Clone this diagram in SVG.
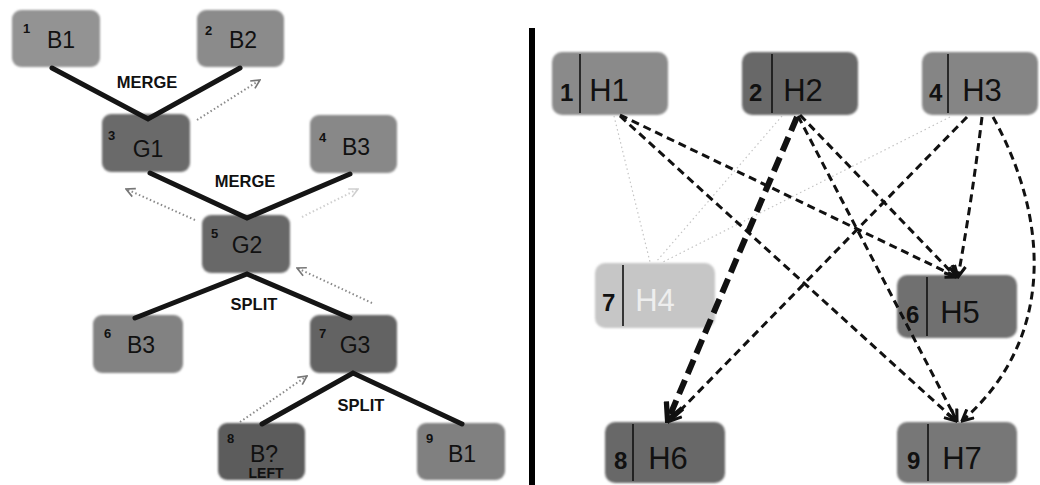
<svg xmlns="http://www.w3.org/2000/svg" width="1040" height="485" viewBox="0 0 1040 485">
  <style>
    .box { stroke: none; filter: url(#soft); }
    .num { font-family: "Liberation Sans", Arial, sans-serif; font-weight: bold; fill: #111; }
    .lbl { font-family: "Liberation Sans", Arial, sans-serif; fill: #111; }
    .small-num { font-size: 13px; }
    .left-lbl { font-size: 23px; text-anchor: middle; }
    .op { font-family: "Liberation Sans", Arial, sans-serif; font-weight: bold; font-size: 16.5px; text-anchor: middle; fill: #111; }
    .big-num { font-size: 24px; }
    .right-lbl { font-size: 31px; text-anchor: middle; }
    .div { stroke: #111; stroke-width: 1.6; }
    .tree { stroke: #151515; stroke-width: 5; stroke-linecap: round; fill: none; }
    .back { stroke: #8a8a8a; stroke-width: 2; stroke-dasharray: 1.5 2.5; fill: none; marker-end: url(#dotHead); }
    .back.faint { stroke: #cfcfcf; marker-end: url(#dotHeadFaint); }
    .dep { stroke: #111; stroke-width: 3; stroke-dasharray: 8 5; fill: none; marker-end: url(#arrow); }
    .dep.heavy { stroke-width: 6; stroke-dasharray: 15 7; marker-end: url(#arrowBig); }
    .ghost { stroke: #c4c4c4; stroke-width: 1.2; stroke-dasharray: 1.5 3; fill: none; }
  </style>
  <defs>
    <filter id="soft" x="-5%" y="-10%" width="110%" height="120%">
      <feGaussianBlur stdDeviation="1.2"/>
    </filter>
    <marker id="dotHead" viewBox="0 0 10 10" refX="9" refY="5" markerWidth="11" markerHeight="11" markerUnits="userSpaceOnUse" orient="auto">
      <path d="M1,1 L9,5 L1,9" fill="none" stroke="#777" stroke-width="1.5"/>
    </marker>
    <marker id="dotHeadFaint" viewBox="0 0 10 10" refX="9" refY="5" markerWidth="11" markerHeight="11" markerUnits="userSpaceOnUse" orient="auto">
      <path d="M1,1 L9,5 L1,9" fill="none" stroke="#cfcfcf" stroke-width="1.5"/>
    </marker>
    <marker id="arrow" viewBox="0 0 10 10" refX="9" refY="5" markerWidth="14" markerHeight="14" markerUnits="userSpaceOnUse" orient="auto">
      <path d="M1,1 L9,5 L1,9" fill="none" stroke="#111" stroke-width="2.2"/>
    </marker>
    <marker id="arrowBig" viewBox="0 0 10 10" refX="8.5" refY="5" markerWidth="22" markerHeight="22" markerUnits="userSpaceOnUse" orient="auto">
      <path d="M1,1 L9,5 L1,9" fill="none" stroke="#111" stroke-width="2.4"/>
    </marker>
  </defs>

  <rect width="1040" height="485" fill="#ffffff"/>

  <!-- panel separator -->
  <line x1="532" y1="28" x2="532" y2="485" stroke="#000" stroke-width="6"/>

  <!-- left tree: merge / split nodes -->
  <g id="b1-top">
    <rect class="box" x="12" y="10" width="88" height="57" rx="9" fill="#939393"/>
    <text class="num small-num" x="23" y="33">1</text>
    <text class="lbl left-lbl" x="61" y="48">B1</text>
  </g>
  <g id="b2-top">
    <rect class="box" x="197" y="10" width="87" height="57" rx="9" fill="#8b8b8b"/>
    <text class="num small-num" x="205" y="35">2</text>
    <text class="lbl left-lbl" x="243" y="48">B2</text>
  </g>
  <g id="g1">
    <rect class="box" x="102" y="114" width="88" height="58" rx="9" fill="#6a6a6a"/>
    <text class="num small-num" x="108" y="140">3</text>
    <text class="lbl left-lbl" x="148" y="157">G1</text>
  </g>
  <g id="b3-top">
    <rect class="box" x="310" y="115" width="87" height="58" rx="9" fill="#888888"/>
    <text class="num small-num" x="319" y="142">4</text>
    <text class="lbl left-lbl" x="356" y="155">B3</text>
  </g>
  <g id="g2">
    <rect class="box" x="202" y="215" width="88" height="58" rx="9" fill="#686868"/>
    <text class="num small-num" x="211" y="238">5</text>
    <text class="lbl left-lbl" x="247" y="253">G2</text>
  </g>
  <g id="b3-left">
    <rect class="box" x="93" y="315" width="90" height="58" rx="9" fill="#828282"/>
    <text class="num small-num" x="104" y="338">6</text>
    <text class="lbl left-lbl" x="141" y="353">B3</text>
  </g>
  <g id="g3">
    <rect class="box" x="310" y="315" width="87" height="58" rx="9" fill="#646464"/>
    <text class="num small-num" x="319" y="338">7</text>
    <text class="lbl left-lbl" x="355" y="353">G3</text>
  </g>
  <g id="b-unknown">
    <rect class="box" x="218" y="423" width="87" height="57" rx="9" fill="#5c5c5c"/>
    <text class="num small-num" x="227" y="443">8</text>
    <text class="lbl left-lbl" x="264" y="462">B?</text>
    <text class="op" x="266" y="478" style="font-size:14px">LEFT</text>
  </g>
  <g id="b1-right">
    <rect class="box" x="417" y="423" width="88" height="57" rx="9" fill="#808080"/>
    <text class="num small-num" x="426" y="443">9</text>
    <text class="lbl left-lbl" x="462" y="462">B1</text>
  </g>

  <!-- right graph: hash nodes -->
  <g id="h1">
    <rect class="box" x="552" y="52" width="116" height="63" rx="10" fill="#8a8a8a"/>
    <line class="div" x1="580" y1="54" x2="580" y2="113"/>
    <text class="num big-num" x="560" y="101">1</text>
    <text class="lbl right-lbl" x="609" y="101">H1</text>
  </g>
  <g id="h2">
    <rect class="box" x="742" y="52" width="116" height="63" rx="10" fill="#686868"/>
    <line class="div" x1="772" y1="54" x2="772" y2="113"/>
    <text class="num big-num" x="749" y="101">2</text>
    <text class="lbl right-lbl" x="803" y="101">H2</text>
  </g>
  <g id="h3">
    <rect class="box" x="922" y="52" width="116" height="63" rx="10" fill="#858585"/>
    <line class="div" x1="948" y1="54" x2="948" y2="113"/>
    <text class="num big-num" x="929" y="101">4</text>
    <text class="lbl right-lbl" x="982" y="101">H3</text>
  </g>
  <g id="h4">
    <rect class="box" x="595" y="263" width="120" height="65" rx="10" fill="#c6c6c6"/>
    <line class="div" x1="623" y1="265" x2="623" y2="326"/>
    <text class="num big-num" x="602" y="311">7</text>
    <text class="lbl right-lbl" x="655" y="311" style="fill:#eeeeee">H4</text>
  </g>
  <g id="h5">
    <rect class="box" x="897" y="275" width="120" height="63" rx="10" fill="#707070"/>
    <line class="div" x1="927" y1="277" x2="927" y2="336"/>
    <text class="num big-num" x="906" y="323">6</text>
    <text class="lbl right-lbl" x="960" y="323">H5</text>
  </g>
  <g id="h6">
    <rect class="box" x="605" y="422" width="120" height="61" rx="10" fill="#686868"/>
    <line class="div" x1="633" y1="424" x2="633" y2="481"/>
    <text class="num big-num" x="614" y="469">8</text>
    <text class="lbl right-lbl" x="668" y="469">H6</text>
  </g>
  <g id="h7">
    <rect class="box" x="897" y="422" width="120" height="61" rx="10" fill="#777777"/>
    <line class="div" x1="928" y1="424" x2="928" y2="481"/>
    <text class="num big-num" x="907" y="469">9</text>
    <text class="lbl right-lbl" x="962" y="469">H7</text>
  </g>

  <!-- connectors -->
  <g id="connectors">
    <!-- tree edges -->
    <path class="tree" d="M52,68 L148,119 L240,68"/>
    <path class="tree" d="M150,173 L247,218 L350,174"/>
    <path class="tree" d="M135,318 L247,274 L350,318"/>
    <path class="tree" d="M262,424 L353,373 L462,424"/>

    <!-- operation labels -->
    <text class="op" x="147" y="88">MERGE</text>
    <text class="op" x="245" y="187">MERGE</text>
    <text class="op" x="254" y="310">SPLIT</text>
    <text class="op" x="361" y="411">SPLIT</text>

    <!-- lineage arrows -->
    <path class="back" d="M197,120 L260,80"/>
    <path class="back" d="M195,220 L126,189"/>
    <path class="back faint" d="M302,217 L358,189"/>
    <path class="back" d="M372,303 L297,268"/>
    <path class="back" d="M240,422 L307,376"/>

    <!-- faint links into H4 -->
    <path class="ghost" d="M614,116 L650,262"/>
    <path class="ghost" d="M782,116 L656,262"/>
    <path class="ghost" d="M950,117 L663,262"/>

    <!-- dependency edges -->
    <path class="dep" d="M620,115 L957,277"/>
    <path class="dep" d="M620,116 L956,421"/>
    <path class="dep" d="M800,115 L956,277"/>
    <path class="dep" d="M798,116 L957,421"/>
    <path class="dep heavy" d="M797,117 L668,420"/>
    <path class="dep" d="M967,117 L670,421"/>
    <path class="dep" d="M982,117 Q972,200 958,277"/>
    <path class="dep" d="M993,117 C1050,220 1055,340 962,421"/>
  </g>
</svg>
